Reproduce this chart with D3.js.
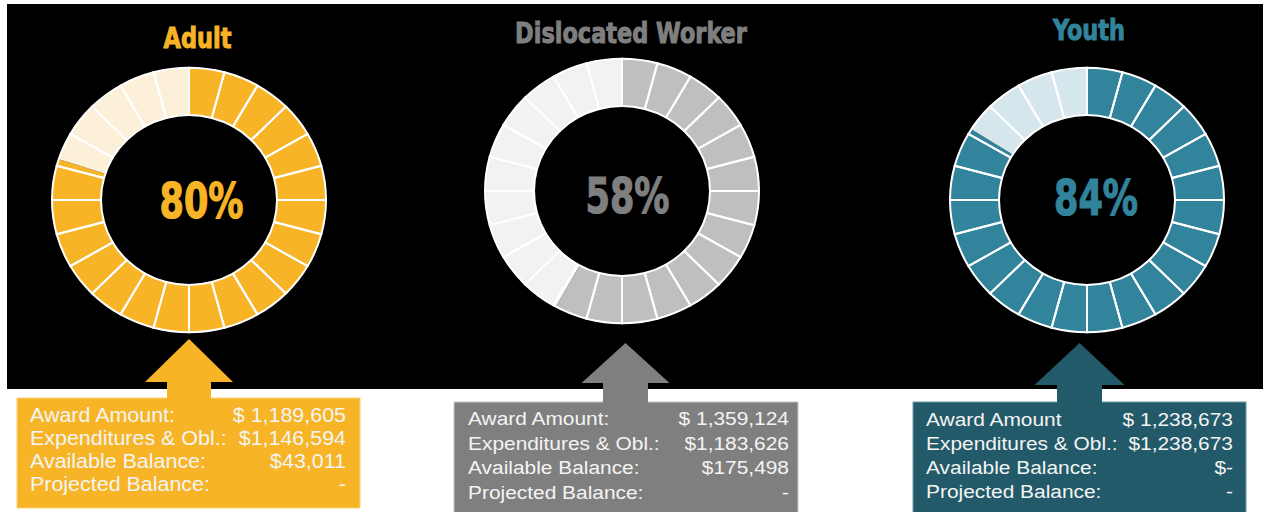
<!DOCTYPE html>
<html>
<head>
<meta charset="utf-8">
<script src="https://cdn.jsdelivr.net/npm/d3@7"></script>
<style>
  body { margin: 0; background: #fff; }
  svg { display: block; }
  .title, .pct { font-family: "DejaVu Sans Condensed", "DejaVu Sans", sans-serif; font-weight: bold; }
  .row { font-family: "Liberation Sans", Arial, sans-serif; fill: #f4f4f4; }
</style>
</head>
<body>
<div id="chart"></div>
<script>
// data
const programs = ["Adult", "Dislocated Worker", "Youth"];
const percentSpent = [80, 58, 84];
const adultLabels = ["Award Amount:", "Expenditures & Obl.:", "Available Balance:", "Projected Balance:"];
const adultValues = ["$ 1,189,605", "$1,146,594", "$43,011", "-"];
const dwLabels = ["Award Amount:", "Expenditures & Obl.:", "Available Balance:", "Projected Balance:"];
const dwValues = ["$ 1,359,124", "$1,183,626", "$175,498", "-"];
const youthLabels = ["Award Amount", "Expenditures & Obl.:", "Available Balance:", "Projected Balance:"];
const youthValues = ["$ 1,238,673", "$1,238,673", "$-", "-"];
const segmentCount = 24;

const rowLabels = [adultLabels, dwLabels, youthLabels];
const rowValues = [adultValues, dwValues, youthValues];

// layout / styling
const width = 1266, height = 512;
const layout = [
  { cx: 189, cy: 200, titleX: 197.5, titleY: 48, pctX: 201.5, pctY: 218,
    main: "#f6b426", light: "#fdf0d8", text: "#f6b426", box: "#f6b426", boxStroke: "#fbd27a",
    ax: 189, tipY: 339, headY: 382, headHalf: 44, shaftHalf: 22,
    bx: 17, by: 398, bw: 343, bh: 110, labelX: 30, valueX: 346, rowY: 422, rowStep: 23, fs: 19.5 },
  { cx: 622, cy: 191, titleX: 631, titleY: 43, pctX: 627.5, pctY: 213,
    main: "#bfbfbf", light: "#f2f2f2", text: "#7f7f7f", box: "#7f7f7f", boxStroke: "#c8c8c8",
    ax: 625.5, tipY: 343, headY: 383, headHalf: 44, shaftHalf: 22.5,
    bx: 454, by: 402, bw: 344, bh: 112, labelX: 468, valueX: 789, rowY: 425, rowStep: 24.5, fs: 19 },
  { cx: 1087, cy: 200, titleX: 1089, titleY: 40, pctX: 1096, pctY: 215,
    main: "#31849b", light: "#d5e7ed", text: "#31849b", box: "#235a69", boxStroke: "#6f9aa6",
    ax: 1079.5, tipY: 343, headY: 385, headHalf: 45, shaftHalf: 22.5,
    bx: 913, by: 402, bw: 333, bh: 112, labelX: 926, valueX: 1233, rowY: 426, rowStep: 24, fs: 19 }
];
const rOuter = 137, rInner = 88, squash = 0.965;

const svg = d3.select("#chart").append("svg")
  .attr("width", width).attr("height", height);

svg.append("rect")
  .attr("x", 7).attr("y", 4).attr("width", 1256).attr("height", 385)
  .attr("fill", "#000");

const pie = d3.pie().sort(null).value(d => d);
const arc = d3.arc().innerRadius(rInner).outerRadius(rOuter);
const segScale = d3.scaleLinear().domain([0, segmentCount]).range([0, 2 * Math.PI]);

programs.forEach((name, i) => {
  const L = layout[i];
  const g = svg.append("g");

  // title (squeezed to look like a condensed display face)
  g.append("text").attr("class", "title")
    .attr("transform", `translate(${L.titleX},${L.titleY}) scale(0.86,1)`)
    .attr("text-anchor", "middle")
    .attr("font-size", 29)
    .attr("fill", L.text)
    .attr("stroke", L.text).attr("stroke-width", 1)
    .text(name);

  // donut
  const ring = g.append("g")
    .attr("transform", `translate(${L.cx},${L.cy}) scale(1,${squash})`);

  ring.selectAll("path.val")
    .data(pie([percentSpent[i], 100 - percentSpent[i]]))
    .join("path")
    .attr("class", "val")
    .attr("d", arc)
    .attr("fill", (d, j) => j === 0 ? L.main : L.light);

  ring.selectAll("path.seg")
    .data(d3.range(segmentCount))
    .join("path")
    .attr("class", "seg")
    .attr("d", k => arc({ startAngle: segScale(k), endAngle: segScale(k + 1) }))
    .attr("fill", "none")
    .attr("stroke", "#fff")
    .attr("stroke-width", 2)
    .attr("vector-effect", "non-scaling-stroke");

  // percent label
  g.append("text").attr("class", "pct")
    .attr("transform", `translate(${L.pctX},${L.pctY}) scale(0.78,1)`)
    .attr("text-anchor", "middle")
    .attr("font-size", 50)
    .attr("fill", i === 1 ? "#7f7f7f" : L.main)
    .attr("stroke", i === 1 ? "#7f7f7f" : L.main).attr("stroke-width", 1.2)
    .text(percentSpent[i] + "%");

  // box
  g.append("rect")
    .attr("x", L.bx).attr("y", L.by).attr("width", L.bw).attr("height", L.bh)
    .attr("fill", L.box).attr("stroke", L.boxStroke).attr("stroke-width", 1);

  // arrow
  const ax = L.ax;
  const arrow = [
    [ax, L.tipY], [ax + L.headHalf, L.headY], [ax + L.shaftHalf, L.headY],
    [ax + L.shaftHalf, L.by + 1], [ax - L.shaftHalf, L.by + 1],
    [ax - L.shaftHalf, L.headY], [ax - L.headHalf, L.headY]
  ];
  g.append("path")
    .attr("d", d3.line()(arrow) + "Z")
    .attr("fill", L.box);

  // rows
  rowLabels[i].forEach((lab, r) => {
    const y = L.rowY + r * L.rowStep;
    g.append("text").attr("class", "row")
      .attr("transform", `translate(${L.labelX},${y}) scale(1.1,1)`)
      .attr("font-size", L.fs)
      .text(lab);
    g.append("text").attr("class", "row")
      .attr("transform", `translate(${L.valueX},${y}) scale(1.1,1)`)
      .attr("font-size", L.fs)
      .attr("text-anchor", "end")
      .text(rowValues[i][r]);
  });
});
</script>
</body>
</html>
